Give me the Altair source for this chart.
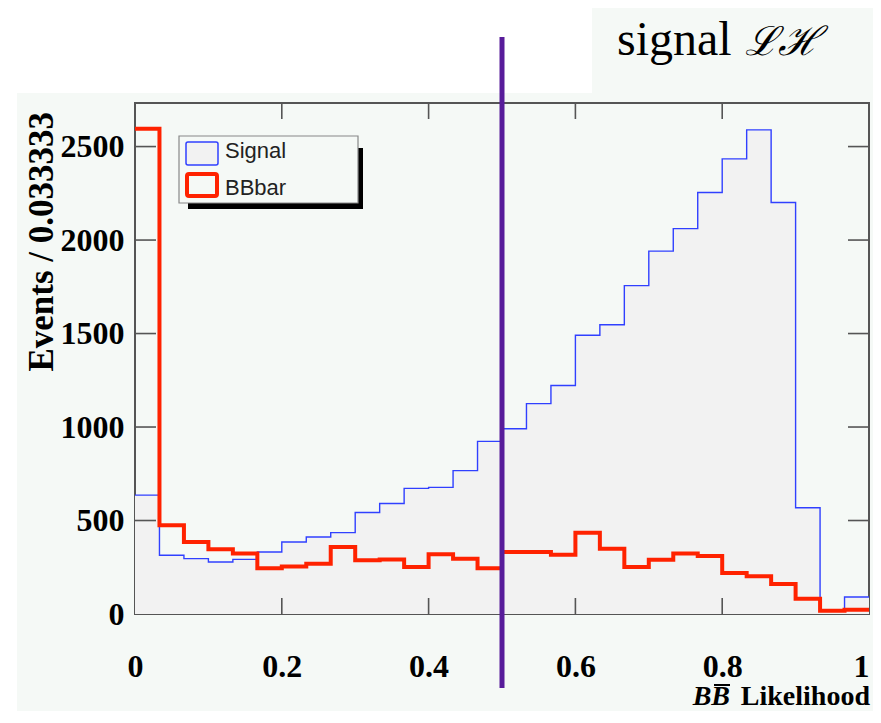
import altair as alt
import pandas as pd

# ---- data ----
bin_edges_left = [i / 30 for i in range(30)]
signal = [636, 314, 296, 278, 292, 332, 385, 412, 435, 543, 591, 672, 677, 767, 923,
          991, 1125, 1222, 1491, 1547, 1756, 1941, 2061, 2254, 2434, 2589, 2201, 568, 23, 91]
bbbar = [2595, 475, 385, 346, 323, 245, 254, 269, 358, 287, 292, 251, 319, 296, 245,
         332, 332, 317, 434, 349, 251, 290, 323, 310, 219, 202, 161, 81, 18, 23]
series_names = ["Signal", "BBbar"]
x_tick_values = [0, 0.2, 0.4, 0.6, 0.8, 1]
y_tick_values = [0, 500, 1000, 1500, 2000, 2500]
cut_value = [0.5]
y_max = 2733

# ---- styles ----
BG = "#f5f9f6"
FILL = "#f2f2f2"
BLUE = "#3040ff"
RED = "#ff2200"
PURPLE = "#581c9a"
SERIF = "Liberation Serif"
SANS = "Liberation Sans"
W, H = 734, 511

xaxis = alt.Axis(values=x_tick_values, format="~g", ticks=False, domain=False, grid=False,
                 labelFont=SERIF, labelFontWeight="bold", labelFontSize=32, labelColor="black",
                 labelPadding=37, labelFlush=False, labelOverlap=False, labelBound=False,
                 labelAlign=alt.ExprRef(expr="datum.value == 1 ? 'right' : 'center'"),
                 title="")
yaxis = alt.Axis(values=y_tick_values, format="d", ticks=False, domain=False, grid=False,
                 labelFont=SERIF, labelFontWeight="bold", labelFontSize=32, labelColor="black",
                 labelPadding=11, labelOverlap=False, title="")
xscale = alt.Scale(domain=[0, 1], nice=False, zero=False)
yscale = alt.Scale(domain=[0, y_max], nice=False)


def X():
    return alt.X("x:Q", scale=xscale, axis=xaxis, title="")


def Y():
    return alt.Y("y:Q", scale=yscale, axis=yaxis, title="")


xs = bin_edges_left + [1.0]
sig_df = pd.DataFrame({"x": xs, "y": signal + [signal[-1]]})
bb_df = pd.DataFrame({"x": xs, "y": bbbar + [bbbar[-1]]})
one = pd.DataFrame({"a": [0]})

# white page corners (outside the ROOT canvas)
white_top = alt.Chart(one).mark_rect(color="white").encode(
    x=alt.value(-127), x2=alt.value(457), y=alt.value(-95), y2=alt.value(-10))
white_left = alt.Chart(one).mark_rect(color="white").encode(
    x=alt.value(-127), x2=alt.value(-118), y=alt.value(-95), y2=alt.value(620))

sig_area = alt.Chart(sig_df).mark_area(interpolate="step-after", color=FILL).encode(
    x=X(), y=Y(), y2=alt.datum(0))

xt_df = pd.DataFrame({"x": x_tick_values[1:-1]})
yt_df = pd.DataFrame({"y": y_tick_values[1:]})
tick_style = dict(color="#555555", strokeWidth=1.6)
xt_bottom = alt.Chart(xt_df).mark_rule(**tick_style).encode(x=X(), y=alt.value(H), y2=alt.value(H - 16))
xt_top = alt.Chart(xt_df).mark_rule(**tick_style).encode(x=X(), y=alt.value(0), y2=alt.value(16))
yt_left = alt.Chart(yt_df).mark_rule(**tick_style).encode(y=Y(), x=alt.value(0), x2=alt.value(21))
yt_right = alt.Chart(yt_df).mark_rule(**tick_style).encode(y=Y(), x=alt.value(W), x2=alt.value(W - 21))

sig_line = alt.Chart(sig_df).mark_line(interpolate="step-after", color=BLUE, strokeWidth=1.4).encode(
    x=X(), y=Y())
bb_line = alt.Chart(bb_df).mark_line(interpolate="step-after", color=RED, strokeWidth=4).encode(
    x=X(), y=Y())

cut = alt.Chart(pd.DataFrame({"x": cut_value})).mark_rule(color=PURPLE, strokeWidth=5).encode(
    x=X(), y=alt.value(-66), y2=alt.value(585))

# legend
leg_shadow = alt.Chart(one).mark_rect(color="black").encode(
    x=alt.value(53), x2=alt.value(228), y=alt.value(45), y2=alt.value(106))
leg_box = alt.Chart(one).mark_rect(fill=BG, stroke="#888888", strokeWidth=1.2).encode(
    x=alt.value(44), x2=alt.value(223), y=alt.value(33), y2=alt.value(100))
sw_sig = alt.Chart(one).mark_rect(fill=FILL, stroke=BLUE, strokeWidth=1.5, cornerRadius=2).encode(
    x=alt.value(51), x2=alt.value(83), y=alt.value(39), y2=alt.value(62))
sw_bb = alt.Chart(one).mark_rect(fill=BG, stroke=RED, strokeWidth=4, cornerRadius=2).encode(
    x=alt.value(52), x2=alt.value(82), y=alt.value(71), y2=alt.value(93))
txt_sig = alt.Chart(one).mark_text(font=SANS, fontSize=22, color="#222222", align="left",
                                   baseline="alphabetic").encode(
    x=alt.value(90), y=alt.value(55), text=alt.value(series_names[0]))
txt_bb = alt.Chart(one).mark_text(font=SANS, fontSize=22, color="#222222", align="left",
                                  baseline="alphabetic").encode(
    x=alt.value(90), y=alt.value(92), text=alt.value(series_names[1]))

# titles
ytitle = alt.Chart(one).mark_text(font=SERIF, fontWeight="bold", fontSize=35, angle=270,
                                  align="right", baseline="alphabetic", color="black").encode(
    x=alt.value(-82), y=alt.value(9), text=alt.value("Events / 0.033333"))
xtitle_bb = alt.Chart(one).mark_text(font=SERIF, fontWeight="bold", fontStyle="italic", fontSize=28,
                                     align="right", baseline="alphabetic", color="black").encode(
    x=alt.value(595), y=alt.value(602), text=alt.value("BB"))
xtitle_bar = alt.Chart(one).mark_rule(color="black", strokeWidth=2).encode(
    x=alt.value(579), x2=alt.value(595), y=alt.value(582))
xtitle_lk = alt.Chart(one).mark_text(font=SERIF, fontWeight="bold", fontSize=28,
                                     align="right", baseline="alphabetic", color="black").encode(
    x=alt.value(735), y=alt.value(602), text=alt.value("Likelihood"))
title_sig = alt.Chart(one).mark_text(font=SERIF, fontSize=48, align="left",
                                     baseline="alphabetic", color="black").encode(
    x=alt.value(482), y=alt.value(-48), text=alt.value("signal"))
title_lh = alt.Chart(one).mark_text(font=SERIF, fontStyle="italic", fontSize=40, align="left",
                                    baseline="alphabetic", color="black").encode(
    x=alt.value(610), y=alt.value(-48), text=alt.value("ℒℋ"))

chart = alt.layer(
    white_top, white_left, sig_area, xt_bottom, xt_top, yt_left, yt_right,
    sig_line, bb_line, cut,
    leg_shadow, leg_box, sw_sig, sw_bb, txt_sig, txt_bb,
    ytitle, xtitle_bb, xtitle_bar, xtitle_lk, title_sig, title_lh,
).properties(
    width=W, height=H,
    padding={"left": 127, "top": 95, "right": 4, "bottom": 97},
    autosize=alt.AutoSizeParams(type="none"),
    background=BG,
).configure_view(stroke="#555555", strokeWidth=2)

chart.save("out.html", embed_options={"renderer": "svg", "actions": False})
